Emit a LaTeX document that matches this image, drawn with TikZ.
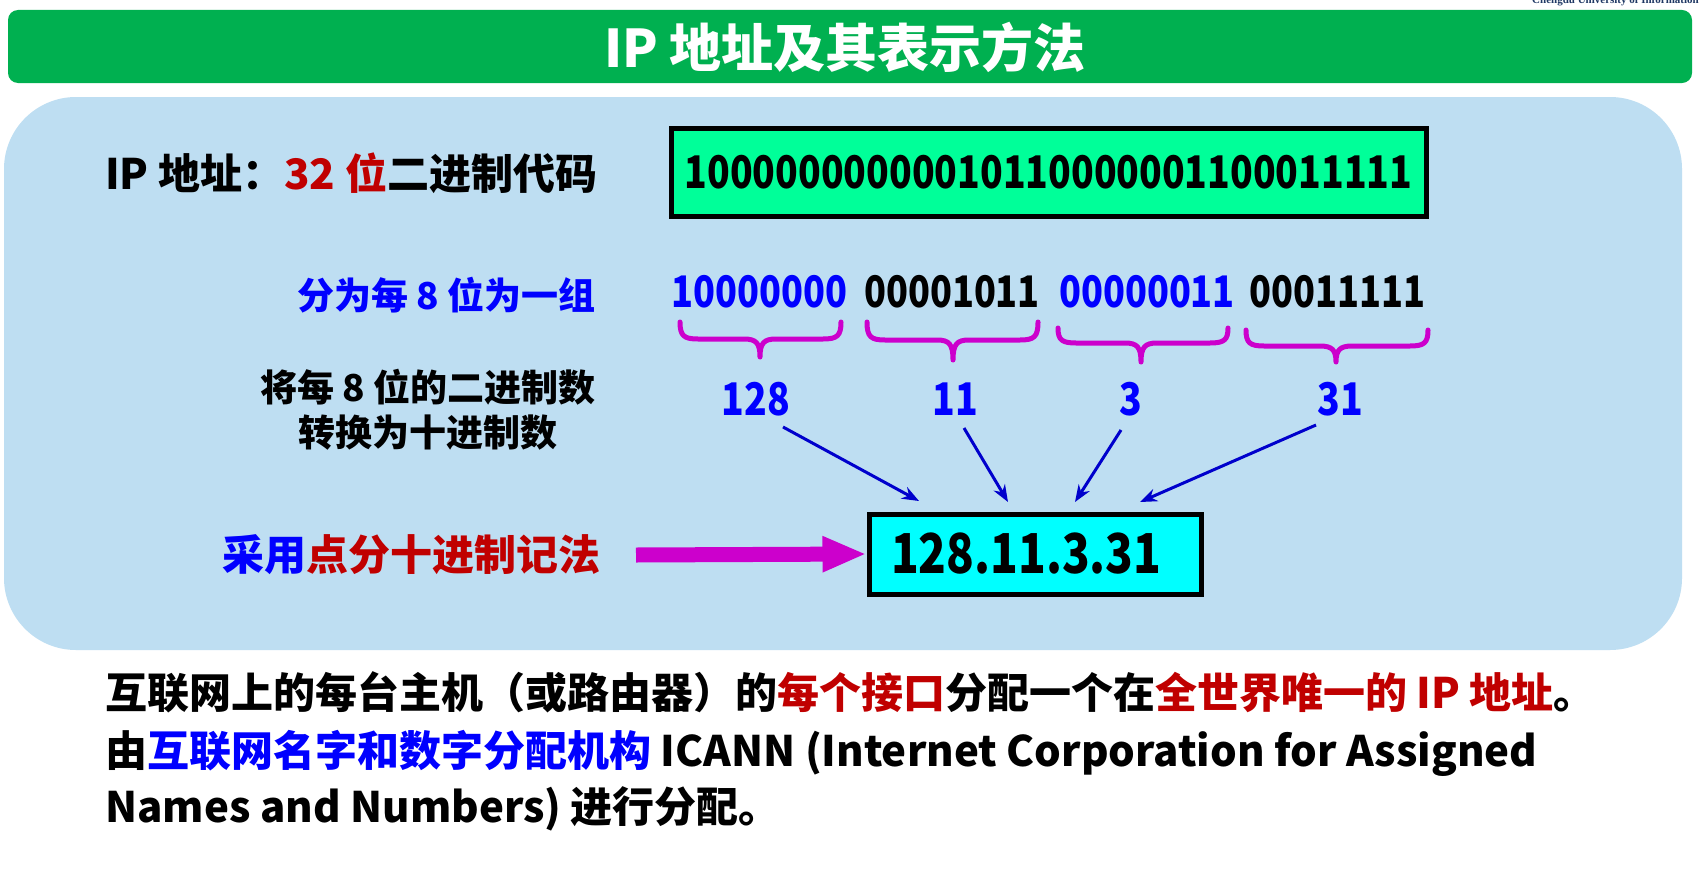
\documentclass[tikz,border=0pt]{standalone}
\usepackage{fontspec}
\setmainfont{Noto Sans CJK SC}
\newfontfamily\digitfont{Noto Sans CJK SC}[FakeStretch=0.83]
\newfontfamily\wmfont{Liberation Serif}
\usetikzlibrary{arrows.meta,calc}

\definecolor{titlegreen}{HTML}{00B050}
\definecolor{panelblue}{HTML}{BEDEF2}
\definecolor{codegreen}{HTML}{00FF99}
\definecolor{dotcyan}{HTML}{00FFFF}
\definecolor{txtblue}{HTML}{0000FF}
\definecolor{txtred}{HTML}{C00000}
\definecolor{bracemag}{HTML}{CC00CC}
\definecolor{arrowblue}{HTML}{0000CC}
\definecolor{wmblue}{HTML}{1F3864}

\newcommand{\fs}[1]{\fontsize{#1}{#1}\selectfont}

\tikzset{
  lbl/.style={inner sep=0pt, font=\bfseries\fs{42}},
  sidetext/.style={inner sep=0pt, font=\bfseries\fs{37}},
  titletext/.style={inner sep=0pt, text=white, font=\bfseries\fs{52}},
  bits/.style={inner sep=0pt, font=\digitfont\bfseries\fs{43.5}},
  decnum/.style={inner sep=0pt, text=txtblue, font=\digitfont\bfseries\fs{45}},
  codebox/.style={draw=black, line width=5pt, fill=codegreen, inner sep=0pt,
                  font=\digitfont\bfseries\fs{45}},
  dotbox/.style={draw=black, line width=5pt, fill=dotcyan, inner ysep=0pt,
                 inner xsep=22pt, text width=288pt, align=left,
                 minimum height=80pt, font=\digitfont\bfseries\fs{55}},
  bracestyle/.style={draw=bracemag, line width=5pt, line cap=round, line join=round},
  convarrow/.style={draw=arrowblue, line width=3pt,
                    -{Stealth[length=17pt,width=13pt]}},
  bigarrow/.style={draw=bracemag, line width=15pt,
                   -{Triangle[length=44pt,width=33pt]}},
  bodytext/.style={inner sep=0pt, anchor=base west, font=\bfseries\fs{42}},
}

% curly brace under one 8-bit group: left x, right x, tip x, top y, bar y, tip y
\newcommand{\grpbrace}[6]{%
  \draw[bracestyle] (#1,#4) .. controls (#1,#5-3) and (#1+4,#5) .. (#1+18,#5)
    -- (#3-16,#5) .. controls (#3-4,#5) and (#3,#5+4) .. (#3,#6)
    .. controls (#3,#5+4) and (#3+4,#5) .. (#3+16,#5)
    -- (#2-18,#5) .. controls (#2-4,#5) and (#2,#5-3) .. (#2,#4);}

\begin{document}
\begin{tikzpicture}[x=1pt,y=-1pt]
\useasboundingbox (0,0) rectangle (1699,875);
\fill[white] (0,0) rectangle (1699,875);

% header strip
\node[anchor=base west, inner sep=0pt, text=wmblue, font=\wmfont\bfseries\fs{11}]
  (wm) at (1532,4) {Chengdu University of Information Technology};
\fill[titlegreen, rounded corners=10pt] (8,10) rectangle (1692,83);
\node[titletext] (title) at (845,47) {IP 地址及其表示方法};

% light blue panel
\fill[panelblue, rounded corners=72pt] (4,97) rectangle (1682,650);

% 32-bit code
\node[lbl, anchor=west] (iplabel) at (105,173)
  {IP 地址：{\color{txtred}32 位}二进制代码};
\node[codebox, minimum width=755pt, minimum height=88pt] (code) at (1048.5,172)
  {10000000000010110000001100011111};

% split into bytes
\node[sidetext, anchor=east, text=txtblue] (split) at (596,295) {分为每 8 位为一组};
\node[bits, text=txtblue] (g1) at (759.5,292) {10000000};
\node[bits, text=black]   (g2) at (952,292)   {00001011};
\node[bits, text=txtblue] (g3) at (1147,292)  {00000011};
\node[bits, text=black]   (g4) at (1337.5,292) {00011111};

\grpbrace{680}{841}{760}{322}{339}{357}
\grpbrace{867}{1038}{953}{322}{340}{360}
\grpbrace{1058}{1228}{1141}{328}{343}{362}
\grpbrace{1246}{1428}{1336}{330}{346}{362}

% decimal values
\node[sidetext, anchor=east, align=center] (conv) at (596,410)
  {将每 8 位的二进制数\\[8pt]转换为十进制数};
\node[decnum] (n128) at (756,399) {128};
\node[decnum] (n11)  at (955,399) {11};
\node[decnum] (n3)   at (1131,399) {3};
\node[decnum] (n31)  at (1340,399) {31};

% dotted decimal result
\node[dotbox] (dec) at (1035,554) {128.11.3.31};
\coordinate (e1) at (919,501);
\coordinate (e2) at (1008,502);
\coordinate (e3) at (1075,502);
\coordinate (e4) at (1140,502);
\draw[convarrow] ($(n128.center)+(27,28)$) -- (e1);
\draw[convarrow] ($(n11.center)+(9,29)$) -- (e2);
\draw[convarrow] ($(n3.center)+(-10,31)$) -- (e3);
\draw[convarrow] ($(n31.center)+(-24,26)$) -- (e4);

\node[lbl, anchor=east] (dotted) at (601,555)
  {{\color{txtblue}采用}{\color{txtred}点分十进制记法}};
\coordinate (mstart) at (636,555);
\draw[bigarrow] (mstart) -- (dec.west);

% notes below the panel
\node[bodytext] (l1) at (105,708)
  {互联网上的每台主机（或路由器）的{\color{txtred}每个接口}分配一个在{\color{txtred}全世界唯一的 IP 地址}。};
\node[bodytext] (l2) at (105,766)
  {由{\color{txtblue}互联网名字和数字分配机构} ICANN (Internet Corporation for Assigned};
\node[bodytext] (l3) at (105,822)
  {Names and Numbers) 进行分配。};
\end{tikzpicture}
\end{document}
